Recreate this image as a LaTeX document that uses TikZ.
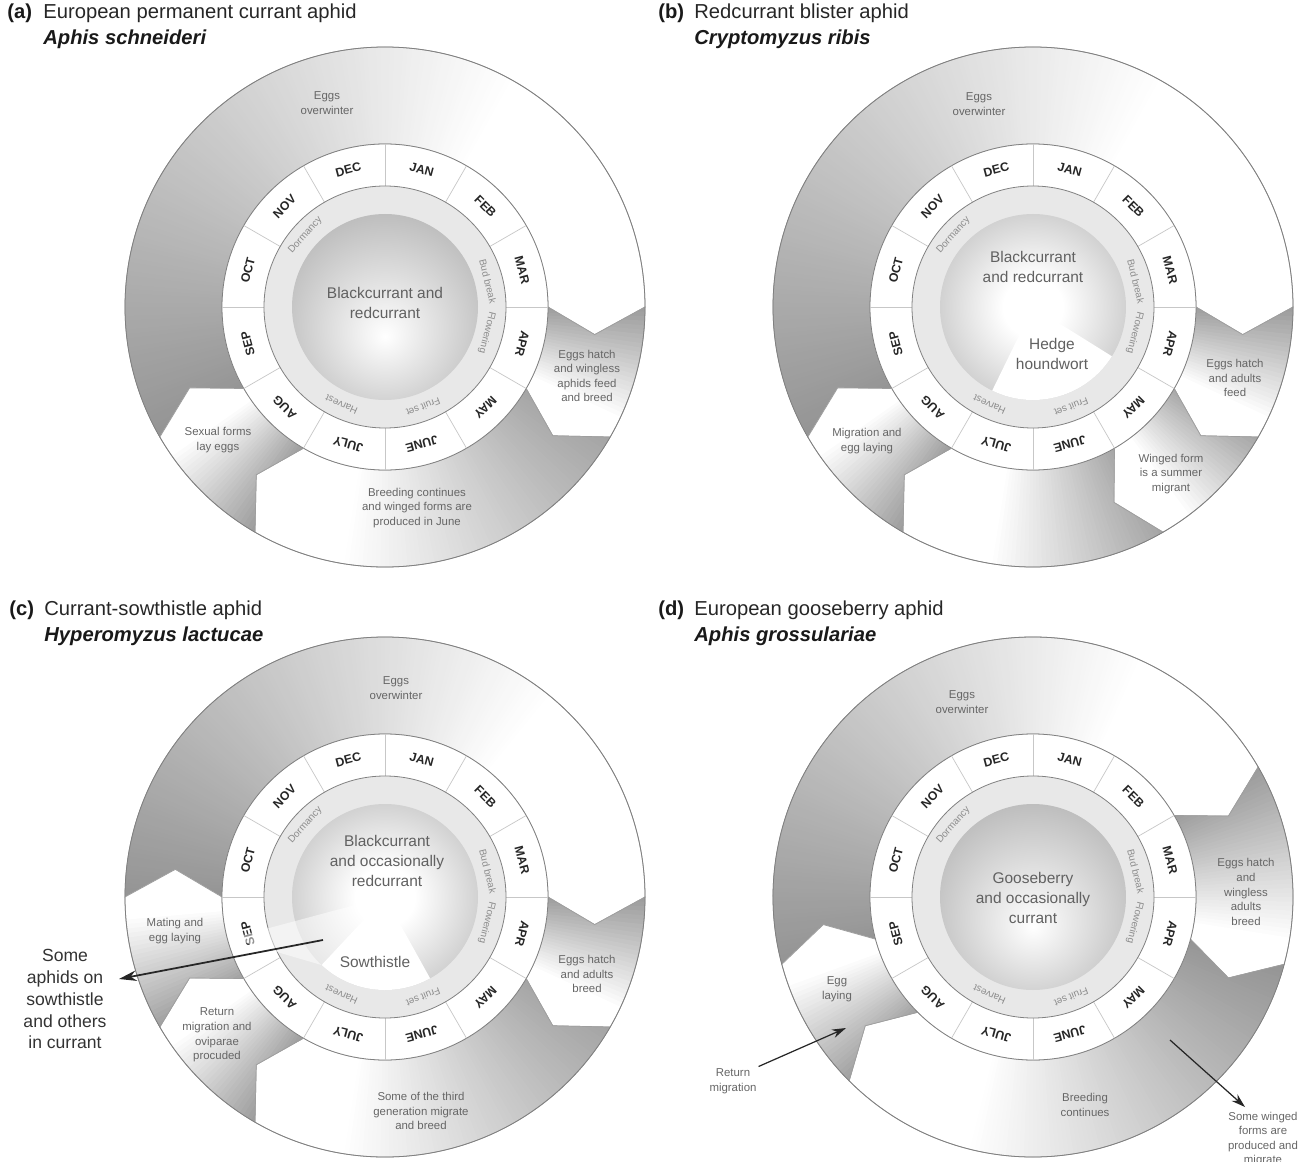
\documentclass[tikz,border=0pt]{standalone}
\usepackage{fontspec}
\setmainfont{Liberation Sans}
\usetikzlibrary{arrows.meta}

% sphere shading for the host plant disc
\pgfdeclareradialshading{sphere}{\pgfpoint{0bp}{-8bp}}{color(0bp)=(white); color(50bp)=(black!44); color(60bp)=(black!44)}
\pgfdeclareradialshading{spherec}{\pgfpoint{0bp}{0bp}}{color(0bp)=(white); color(8bp)=(white); color(50bp)=(black!44); color(60bp)=(black!44)}

% one stage of the cycle: arrow shaped band from #1 to #2 (degrees, clockwise),
% grey #3 at its start fading to white over #4 degrees
\newcommand{\phaseband}[4]{%
  \begin{scope}
    \clip (#1:163) arc[start angle=#1, end angle=#2, radius=163] -- ({#2-7.5}:211.5) -- (#2:260)
      arc[start angle=#2, end angle=#1, radius=260] -- ({#1-7.5}:211.5) -- cycle;
    \fill[white] (0,0) circle[radius=265];
    \pgfmathtruncatemacro\nsteps{#4}
    \foreach \k in {0,...,\nsteps}{
      \pgfmathsetmacro\ang{#1+1-\k}
      \pgfmathsetmacro\pct{#3*(1-\k/\nsteps)}
      \fill[black!\pct] (0,0) -- (\ang:270) arc[start angle=\ang, delta angle=-2, radius=270] -- cycle;
    }
  \end{scope}
  \draw[bandline] (#1:163) arc[start angle=#1, end angle=#2, radius=163] -- ({#2-7.5}:211.5) -- (#2:260)
    arc[start angle=#2, end angle=#1, radius=260] -- ({#1-7.5}:211.5) -- cycle;
}

% month dial, growth stages and host disc
\newcommand{\dial}[2]{%
  \draw[ringline] (0,0) circle[radius=260];
  \filldraw[fill=white, ringline] (0,0) circle[radius=163];
  \foreach \a in {0,30,...,330}{\draw[divider] (\a:121) -- (\a:163);}
  \foreach \m [count=\i from 0] in {JAN,FEB,MAR,APR,MAY,JUNE,JULY,AUG,SEP,OCT,NOV,DEC}{
    \node[monthlbl, rotate={-15-30*\i}] (#2m\i) at ({75-30*\i}:142) {\m};}
  \filldraw[fill=black!9, ringline] (0,0) circle[radius=121];
  \shade[shading=#1] (0,0) circle[radius=93];
  \node[phaselbl, rotate=48] (#2dorm) at (138:107) {Dormancy};
  \node[phaselbl, rotate=-76] (#2bud) at (14:106) {Bud break};
  \node[phaselbl, rotate=-104] (#2flow) at (-14:105) {Flowering};
  \node[phaselbl, rotate=-159] (#2fruit) at (-69:107) {Fruit set};
  \node[phaselbl, rotate=-204] (#2harv) at (-114:107) {Harvest};
}

\begin{document}
\begin{tikzpicture}[x=0.02cm, y=0.02cm,
  every node/.style={font=\fontsize{6.5}{8.3}\selectfont, text=black!60, align=center, inner sep=1pt},
  monthlbl/.style={font=\fontsize{7}{8}\selectfont\bfseries, text=black!85, inner sep=0pt},
  phaselbl/.style={font=\fontsize{5.6}{6.5}\selectfont, text=black!45, inner sep=0pt},
  hostlbl/.style={font=\fontsize{8.8}{11.3}\selectfont, text=black!62},
  taglbl/.style={font=\fontsize{11.5}{14}\selectfont\bfseries, text=black!90, anchor=base west, inner sep=0pt},
  namelbl/.style={font=\fontsize{11.5}{14}\selectfont, text=black!85, anchor=base west, inner sep=0pt},
  specieslbl/.style={font=\fontsize{11.5}{14}\selectfont\bfseries\itshape, text=black!90, anchor=base west, inner sep=0pt},
  ringline/.style={draw=black!50, line width=0.45pt},
  divider/.style={draw=black!22, line width=0.4pt},
  bandline/.style={draw=black!38, line width=0.4pt},
  bigpointer/.style={-{Stealth[length=10pt, width=6pt]}, line width=1pt, black!85},
  pointer/.style={-{Stealth[length=8pt, width=5pt]}, line width=0.7pt, black!85}]
  \useasboundingbox (0,0) rectangle (1302,-1162);

  % (a)
  \node[taglbl] (taga) at (7,-19) {(a)};
  \node[namelbl] (namea) at (43,-19) {European permanent currant aphid};
  \node[specieslbl] (spa) at (43,-45) {Aphis schneideri};
  \begin{scope}[shift={(385,-307)}]
    \phaseband{210}{0}{42}{150}
    \phaseband{0}{-30}{40}{26}
    \phaseband{-30}{-120}{36}{70}
    \phaseband{-120}{-150}{40}{26}
    \dial{sphere}{a}
    \node[hostlbl] (hosta) at (0,4) {Blackcurrant and\\redcurrant};
  \end{scope}
  \node (ovwa) at (327,-103) {Eggs\\overwinter};
  \node (hatcha) at (587,-376) {Eggs hatch\\and wingless\\aphids feed\\and breed};
  \node (breeda) at (417,-508) {Breeding continues\\and winged forms are\\produced in June};
  \node (sexa) at (218,-440) {Sexual forms\\lay eggs};

  % (b)
  \node[taglbl] (tagb) at (658,-19) {(b)};
  \node[namelbl] (nameb) at (694,-19) {Redcurrant blister aphid};
  \node[specieslbl] (spb) at (694,-45) {Cryptomyzus ribis};
  \begin{scope}[shift={(1033,-307)}]
    \phaseband{210}{0}{42}{150}
    \phaseband{0}{-30}{40}{26}
    \phaseband{-30}{-60}{36}{24}
    \phaseband{-60}{-120}{36}{40}
    \phaseband{-120}{-150}{40}{26}
    \dial{spherec}{b}
    \fill[white] (0,0) -- (-32:93) arc[start angle=-32, end angle=-116, radius=93] -- cycle;
    \node[hostlbl] (hostb) at (0,40) {Blackcurrant\\and redcurrant};
    \node[hostlbl] (houndb) at (19,-47) {Hedge\\houndwort};
  \end{scope}
  \node (ovwb) at (979,-104) {Eggs\\overwinter};
  \node (hatchb) at (1235,-378) {Eggs hatch\\and adults\\feed};
  \node (wingb) at (1171,-474) {Winged form\\is a summer\\migrant};
  \node (migb) at (867,-441) {Migration and\\egg laying};

  % (c)
  \node[taglbl] (tagc) at (9,-615) {(c)};
  \node[namelbl] (namec) at (44,-615) {Currant-sowthistle aphid};
  \node[specieslbl] (spc) at (44,-641) {Hyperomyzus lactucae};
  \begin{scope}[shift={(385,-897)}]
    \phaseband{180}{0}{42}{130}
    \phaseband{0}{-30}{40}{26}
    \phaseband{-30}{-120}{36}{70}
    \phaseband{-120}{-150}{40}{26}
    \phaseband{-150}{-180}{38}{26}
    \dial{spherec}{c}
    \fill[white, opacity=0.5] (0,0) -- (-165:160) -- (-133:93) -- cycle;
    \fill[white] (0,0) -- (-61:93) arc[start angle=-61, end angle=-133, radius=93] -- cycle;
    \node[hostlbl] (hostc) at (2,36) {Blackcurrant\\and occasionally\\redcurrant};
    \node[hostlbl] (sowc) at (-10,-65) {Sowthistle};
    \coordinate (conec) at (-62,-43);
  \end{scope}
  \node (ovwc) at (396,-688) {Eggs\\overwinter};
  \node (matec) at (175,-931) {Mating and\\egg laying};
  \node (hatchc) at (587,-974) {Eggs hatch\\and adults\\breed};
  \node (retc) at (217,-1035) {Return\\migration and\\oviparae\\procuded};
  \node (thirdc) at (421,-1111) {Some of the third\\generation migrate\\and breed};
  \node[font=\fontsize{10}{12.5}\selectfont, text=black!80] (aphc) at (65,-999) {Some\\aphids on\\sowthistle\\and others\\in currant};
  \coordinate (aphtip) at (119,-979);
  \draw[bigpointer] (conec) -- (aphtip);

  % (d)
  \node[taglbl] (tagd) at (658,-615) {(d)};
  \node[namelbl] (named) at (694,-615) {European gooseberry aphid};
  \node[specieslbl] (spd) at (694,-641) {Aphis grossulariae};
  \begin{scope}[shift={(1033,-897)}]
    \phaseband{195}{30}{42}{130}
    \phaseband{30}{-15}{40}{40}
    \phaseband{-15}{-135}{42}{90}
    \phaseband{-135}{-165}{38}{26}
    \dial{sphere}{d}
    \node[hostlbl] (hostd) at (0,-1) {Gooseberry\\and occasionally\\currant};
    \coordinate (wingtail) at (137,-143);
  \end{scope}
  \node (ovwd) at (962,-702) {Eggs\\overwinter};
  \node (hatchd) at (1246,-892) {Eggs hatch\\and\\wingless\\adults\\breed};
  \node (layd) at (837,-989) {Egg\\laying};
  \node (breedd) at (1085,-1105) {Breeding\\continues};
  \node (retd) at (733,-1081) {Return\\migration};
  \node (wingd) at (1263,-1139) {Some winged\\forms are\\produced and\\migrate};
  \coordinate (rettip) at (846,-1028);
  \coordinate (winghead) at (1245,-1107);
  \draw[pointer] (retd.north east) -- (rettip);
  \draw[pointer] (wingtail) -- (winghead);
\end{tikzpicture}
\end{document}
